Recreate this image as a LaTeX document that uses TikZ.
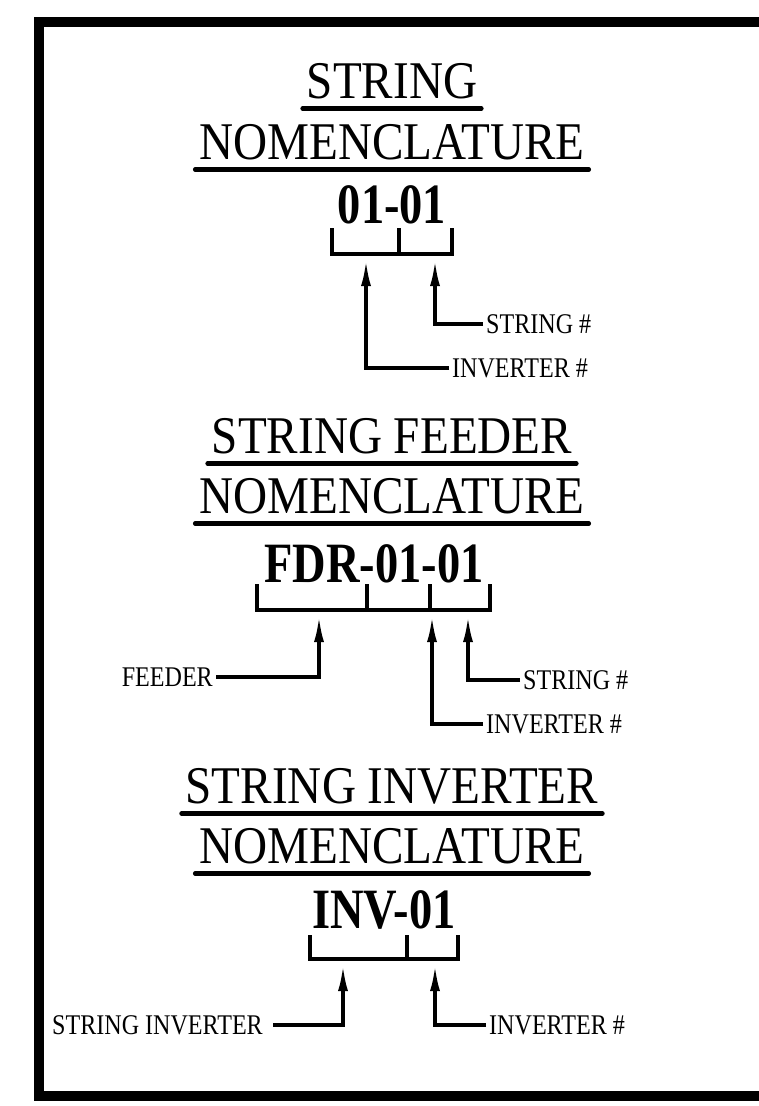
\documentclass[tikz,border=0pt]{standalone}
\usepackage{fontspec}
\setmainfont{Liberation Serif}
\newfontfamily\headfont{Liberation Serif}[FakeStretch=0.89]
\newfontfamily\codefont{Liberation Serif}[FakeStretch=0.815]
\newfontfamily\lblfont{Liberation Serif}[FakeStretch=0.845]
\usetikzlibrary{arrows.meta}

\begin{document}
\begin{tikzpicture}[x=1pt, y=-1pt,
  head/.style={inner sep=0pt, anchor=base, font=\headfont\fontsize{53}{60}\selectfont},
  code/.style={inner sep=0pt, anchor=base, font=\codefont\bfseries\fontsize{57}{64}\selectfont},
  lbl/.style={inner xsep=3pt, inner ysep=0pt, text height=18pt, text depth=0pt,
    font=\lblfont\fontsize{28.5}{32}\selectfont},
  uline/.style={line width=4.5pt, line cap=round},
  bracket/.style={line width=3.4pt},
  arr/.style={line width=3.2pt, -{Latex[length=26pt, width=10pt]}},
  frame/.style={line width=10pt}
]
\useasboundingbox (0,0) rectangle (759,1106);
\draw[frame] (759,22) -| (39,1096) -- (759,1096);

% string
\node[head] (h1a) at (392,98)  {STRING};
\node[head] (h1b) at (392,159) {NOMENCLATURE};
\node[code] (c1)  at (392,223) {01-01};
\draw[bracket] (332,228) |- (452,254) -- (452,228);
\draw[bracket] (399,228) -- (399,254);
\coordinate (i1tip) at (366,260);
\coordinate (s1tip) at (435,260);
\node[lbl, anchor=west] (s1) at (483,324) {STRING \#};
\node[lbl, anchor=west] (i1) at (449,368) {INVERTER \#};
\draw[arr] (s1.west) -| (s1tip);
\draw[arr] (i1.west) -| (i1tip);

% string feeder
\node[head] (h2a) at (392,453) {STRING FEEDER};
\node[head] (h2b) at (392,513) {NOMENCLATURE};
\node[code] (c2)  at (374,582) {FDR-01-01};
\draw[bracket] (257,584) |- (490,610) -- (490,584);
\foreach \x in {367,430}
  \draw[bracket] (\x,584) -- (\x,610);
\coordinate (f2tip) at (319,616);
\coordinate (i2tip) at (432,616);
\coordinate (s2tip) at (468,616);
\node[lbl, anchor=east] (f2) at (216,677) {FEEDER};
\node[lbl, anchor=west] (s2) at (520,680) {STRING \#};
\node[lbl, anchor=west] (i2) at (483,724) {INVERTER \#};
\draw[arr] (f2.east) -| (f2tip);
\draw[arr] (s2.west) -| (s2tip);
\draw[arr] (i2.west) -| (i2tip);

% string inverter
\node[head] (h3a) at (392,803) {STRING INVERTER};
\node[head] (h3b) at (392,863) {NOMENCLATURE};
\node[code] (c3)  at (384,928) {INV-01};
\draw[bracket] (310,935) |- (458,959) -- (458,935);
\draw[bracket] (407,935) -- (407,959);
\coordinate (v3tip) at (343,965);
\coordinate (i3tip) at (435,965);
\node[lbl, anchor=east, inner xsep=10pt] (v3) at (273,1025) {STRING INVERTER};
\node[lbl, anchor=west] (i3) at (486,1025) {INVERTER \#};
\draw[arr] (v3.east) -| (v3tip);
\draw[arr] (i3.west) -| (i3tip);

\foreach \h in {h1a,h1b,h2a,h2b,h3a,h3b}
  \draw[uline] ([shift={(-4,10.5)}]\h.base west) -- ([shift={(4,10.5)}]\h.base east);
\end{tikzpicture}
\end{document}
